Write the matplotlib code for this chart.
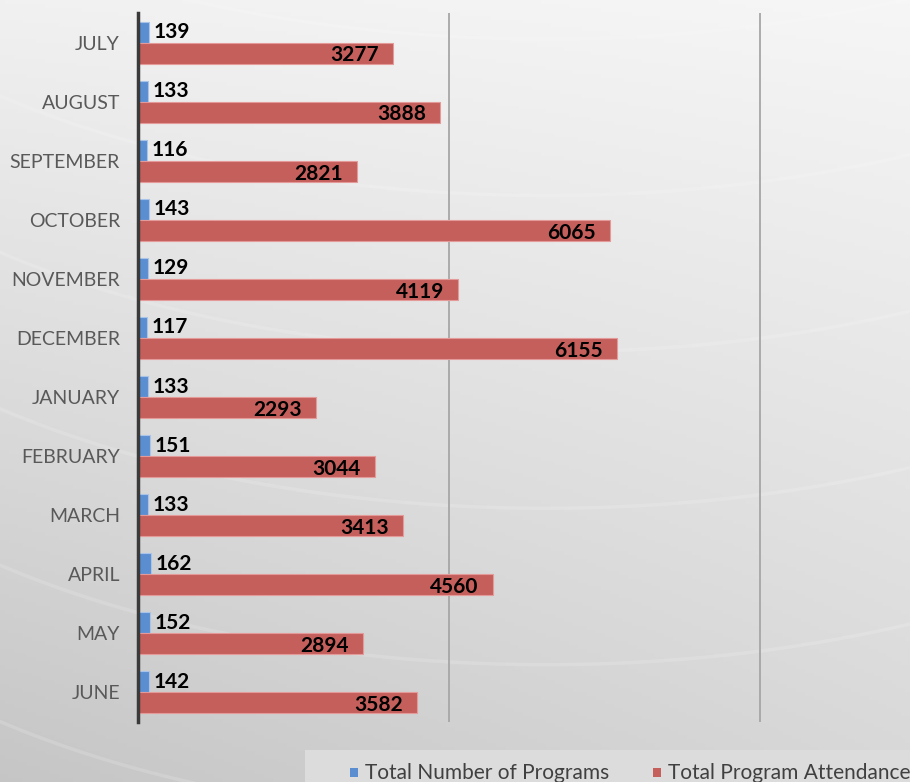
import numpy as np
import matplotlib
matplotlib.use("Agg")
import matplotlib.pyplot as plt

months = ["JULY", "AUGUST", "SEPTEMBER", "OCTOBER", "NOVEMBER", "DECEMBER",
          "JANUARY", "FEBRUARY", "MARCH", "APRIL", "MAY", "JUNE"]
programs = [139, 133, 116, 143, 129, 117, 133, 151, 133, 162, 152, 142]
attendance = [3277, 3888, 2821, 6065, 4119, 6155, 2293, 3044, 3413, 4560, 2894, 3582]
series_names = ["Total Number of Programs", "Total Program Attendance"]

W, H = 910, 782
fig = plt.figure(figsize=(W / 100, H / 100), dpi=100)

# background gradient
bg = fig.add_axes([0, 0, 1, 1])
yy, xx = np.mgrid[0:1:200j, 0:1:200j]
val = 0.965 - 0.12 * yy - 0.05 * (1 - xx) * yy - 0.02 * (1 - xx)
bg.imshow(np.dstack([val, val, val]), extent=[0, 1, 0, 1], aspect="auto", origin="upper")
# faint swirl arcs (bottoms of large ellipses)
t = np.linspace(np.pi * 1.05, np.pi * 1.95, 300)
for cy in [1.45, 1.25, 1.05, 0.85, 0.65, 0.45]:
    bg.plot(0.6 + 0.9 * np.cos(t), cy + 0.5 * np.sin(t), color="white", alpha=0.15, lw=2.5)
bg.set_xlim(0, 1)
bg.set_ylim(0, 1)
bg.axis("off")

left = 138 / W
top = 13 / H
bottom = 722 / H
ax = fig.add_axes([left, 1 - bottom, 1 - left, bottom - top])
ax.set_facecolor("none")

y = np.arange(len(months))
h = 0.355
ax.barh(y - h / 2, programs, height=h, color="#5b8ed0", edgecolor="#a9c4e8", linewidth=0.8, zorder=3)
ax.barh(y + h / 2, attendance, height=h, color="#c45f5c", edgecolor="#e39a98", linewidth=0.8, zorder=3)

ax.set_xlim(0, 772 / 0.07775)
ax.set_ylim(len(months) - 0.5, -0.5)
ax.set_yticks(y)
ax.set_yticklabels(months, fontsize=14, color="#595959", family="Lato")
ax.tick_params(axis="y", length=0, pad=13)
ax.set_xticks([4000, 8000])
ax.tick_params(axis="x", length=0, labelbottom=False)
ax.grid(axis="x", color="#a6a6a6", lw=1.3, zorder=0)
for s in ["top", "right", "bottom"]:
    ax.spines[s].set_visible(False)
ax.spines["left"].set_color("#3a3a3a")
ax.spines["left"].set_linewidth(2.5)
ax.spines["left"].set_zorder(5)

for i in range(len(months)):
    ax.text(programs[i] + 60, y[i] - h / 2, str(programs[i]), va="center", ha="left",
            fontsize=15, fontweight="bold", color="black", family="Lato", zorder=6)
    ax.text(attendance[i] - 180, y[i] + h / 2 + 0.04, str(attendance[i]), va="center", ha="right",
            fontsize=15, fontweight="bold", color="black", family="Lato", zorder=6)

# legend box
lax = fig.add_axes([305 / W, 0, 1 - 305 / W, 32 / H])
lax.set_xlim(305, W)
lax.set_ylim(0, 32)
lax.axis("off")
lax.add_patch(plt.Rectangle((305, 0), W - 305, 32, facecolor="#dcdcdc", edgecolor="none"))
lax.add_patch(plt.Rectangle((350, 5), 8, 9, facecolor="#5b8ed0", edgecolor="none"))
lax.text(365, 9, series_names[0], fontsize=15, color="#404040", va="center", ha="left", family="Lato")
lax.add_patch(plt.Rectangle((653, 5), 8, 9, facecolor="#c45f5c", edgecolor="none"))
lax.text(668, 9, series_names[1], fontsize=15, color="#404040", va="center", ha="left", family="Lato")

fig.savefig("out.png", dpi=100)
